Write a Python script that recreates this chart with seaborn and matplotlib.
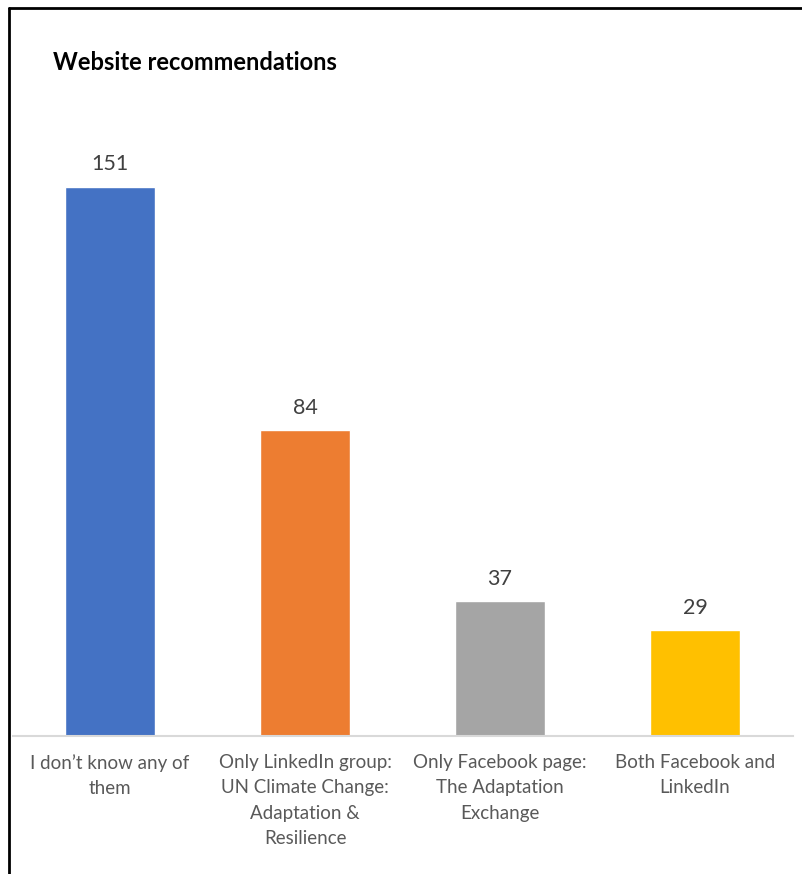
import matplotlib.pyplot as plt
from matplotlib.lines import Line2D
import seaborn as sns
import pandas as pd

# --- Data ---
categories = [
    "I don\u2019t know any of\nthem",
    "Only LinkedIn group:\nUN Climate Change:\nAdaptation &\nResilience",
    "Only Facebook page:\nThe Adaptation\nExchange",
    "Both Facebook and\nLinkedIn",
]
counts = [151, 84, 37, 29]
bar_colors = ["#4472C4", "#ED7D31", "#A5A5A5", "#FFC000"]

df = pd.DataFrame({"Category": categories, "Count": counts})

sns.set_style("white")
plt.rcParams['font.family'] = ['Lato', 'DejaVu Sans']

fig = plt.figure(figsize=(8.03, 8.74), dpi=100)
ax = fig.add_axes([0.0156, 0.158, 0.9714, 0.666])

sns.barplot(data=df, x="Category", y="Count", hue="Category",
            palette=bar_colors, order=categories, width=0.46,
            legend=False, ax=ax, saturation=1)

ax.set_ylim(0, 160)
ax.set_xlim(-0.5, 3.5)
ax.set_xlabel("")
ax.set_ylabel("")
ax.set_yticks([])
for side in ["top", "right", "left"]:
    ax.spines[side].set_visible(False)
ax.spines["bottom"].set_color("#D9D9D9")
ax.spines["bottom"].set_linewidth(1.5)
ax.tick_params(axis="x", length=0, pad=13, labelsize=13.5, labelcolor="#595959")
for lbl in ax.get_xticklabels():
    lbl.set_linespacing(1.6)
    lbl.set_verticalalignment("top")

for cont in ax.containers:
    ax.bar_label(cont, padding=9, fontsize=15.5, color="#404040")

fig.text(0.066, 0.929, "Website recommendations", fontsize=17,
         fontweight="bold", color="black", va="center", ha="left")

# frame lines (left and top only, as in the cropped screenshot)
fig.add_artist(Line2D([0.011, 0.011], [0, 0.991], color="black", lw=2,
                      transform=fig.transFigure))
fig.add_artist(Line2D([0.011, 1.0], [0.991, 0.991], color="black", lw=2,
                      transform=fig.transFigure))

fig.savefig("out.png", dpi=100, facecolor="white")
